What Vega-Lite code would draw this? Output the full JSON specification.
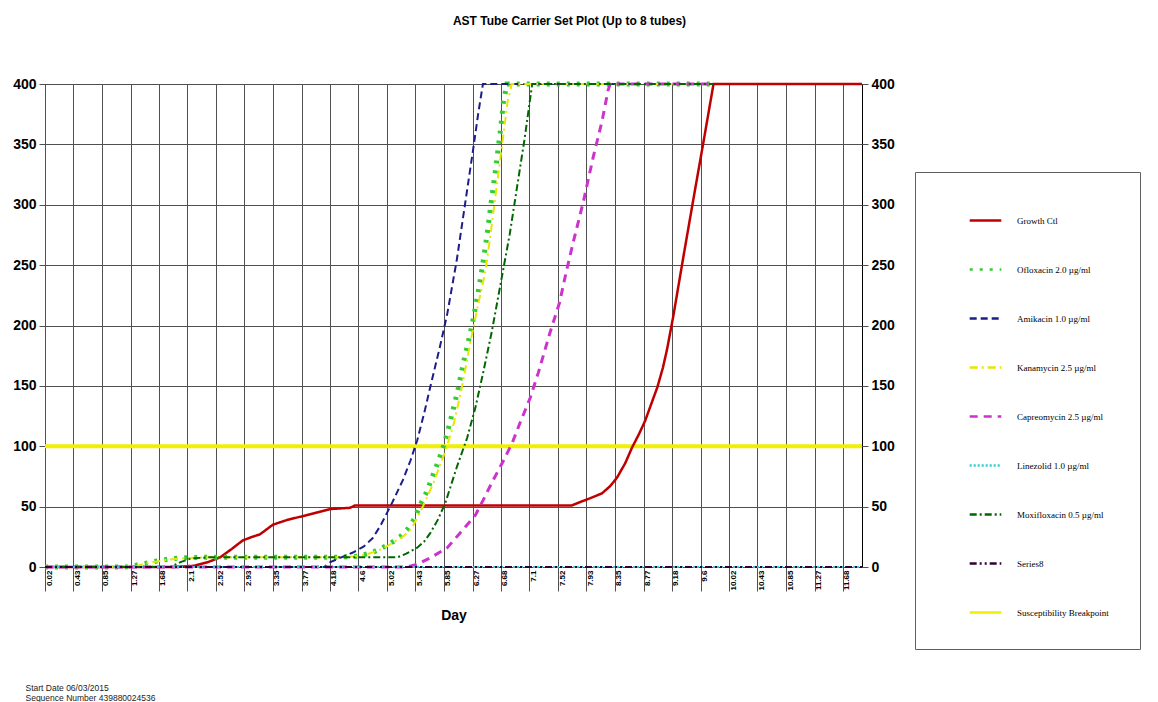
{
"$schema": "https://vega.github.io/schema/vega-lite/v6.json",
"autosize": {"type": "none"},
"width": 817, "height": 483,
"padding": {"left": 45, "top": 84, "right": 296, "bottom": 135},
"background": "white",
"title": {"text": "AST Tube Carrier Set Plot (Up to 8 tubes)", "font": "Liberation Sans", "fontSize": 12, "fontWeight": "bold", "color": "#000", "anchor": "middle", "dx": 116, "offset": 46},
"data": {"values": [
{"s":"Susceptibility Breakpoint","d":0.02,"v":100},{"s":"Susceptibility Breakpoint","d":11.96,"v":100},
{"s":"Growth Ctl","d":0.02,"v":0},{"s":"Growth Ctl","d":1.9,"v":0},{"s":"Growth Ctl","d":2.2,"v":1},{"s":"Growth Ctl","d":2.4,"v":4},{"s":"Growth Ctl","d":2.58,"v":8},{"s":"Growth Ctl","d":2.75,"v":15},{"s":"Growth Ctl","d":2.91,"v":22},{"s":"Growth Ctl","d":3.05,"v":25},{"s":"Growth Ctl","d":3.16,"v":27},{"s":"Growth Ctl","d":3.35,"v":35},{"s":"Growth Ctl","d":3.56,"v":39},{"s":"Growth Ctl","d":3.85,"v":43},{"s":"Growth Ctl","d":4.05,"v":46},{"s":"Growth Ctl","d":4.19,"v":48},{"s":"Growth Ctl","d":4.48,"v":49},{"s":"Growth Ctl","d":4.55,"v":51},{"s":"Growth Ctl","d":7.72,"v":51},{"s":"Growth Ctl","d":7.85,"v":54},{"s":"Growth Ctl","d":7.99,"v":57},{"s":"Growth Ctl","d":8.16,"v":61},{"s":"Growth Ctl","d":8.28,"v":67},{"s":"Growth Ctl","d":8.38,"v":74},{"s":"Growth Ctl","d":8.5,"v":86},{"s":"Growth Ctl","d":8.6,"v":99},{"s":"Growth Ctl","d":8.7,"v":110},{"s":"Growth Ctl","d":8.79,"v":121},{"s":"Growth Ctl","d":8.88,"v":135},{"s":"Growth Ctl","d":8.97,"v":149},{"s":"Growth Ctl","d":9.05,"v":165},{"s":"Growth Ctl","d":9.11,"v":180},{"s":"Growth Ctl","d":9.2,"v":207},{"s":"Growth Ctl","d":9.35,"v":257},{"s":"Growth Ctl","d":9.5,"v":306},{"s":"Growth Ctl","d":9.64,"v":351},{"s":"Growth Ctl","d":9.79,"v":400},{"s":"Growth Ctl","d":11.96,"v":400},
{"s":"Ofloxacin 2.0 µg/ml","d":0.02,"v":0},{"s":"Ofloxacin 2.0 µg/ml","d":1.2,"v":0},{"s":"Ofloxacin 2.0 µg/ml","d":1.35,"v":1.5},{"s":"Ofloxacin 2.0 µg/ml","d":1.48,"v":3},{"s":"Ofloxacin 2.0 µg/ml","d":1.66,"v":5},{"s":"Ofloxacin 2.0 µg/ml","d":1.82,"v":6.6},{"s":"Ofloxacin 2.0 µg/ml","d":1.99,"v":7.5},{"s":"Ofloxacin 2.0 µg/ml","d":2.3,"v":8},{"s":"Ofloxacin 2.0 µg/ml","d":4.33,"v":8},{"s":"Ofloxacin 2.0 µg/ml","d":4.6,"v":9},{"s":"Ofloxacin 2.0 µg/ml","d":4.8,"v":12},{"s":"Ofloxacin 2.0 µg/ml","d":4.92,"v":15},{"s":"Ofloxacin 2.0 µg/ml","d":5.08,"v":20},{"s":"Ofloxacin 2.0 µg/ml","d":5.21,"v":25},{"s":"Ofloxacin 2.0 µg/ml","d":5.33,"v":32},{"s":"Ofloxacin 2.0 µg/ml","d":5.42,"v":40},{"s":"Ofloxacin 2.0 µg/ml","d":5.5,"v":51},{"s":"Ofloxacin 2.0 µg/ml","d":5.58,"v":60},{"s":"Ofloxacin 2.0 µg/ml","d":5.65,"v":70},{"s":"Ofloxacin 2.0 µg/ml","d":5.75,"v":85},{"s":"Ofloxacin 2.0 µg/ml","d":5.84,"v":99},{"s":"Ofloxacin 2.0 µg/ml","d":5.94,"v":120},{"s":"Ofloxacin 2.0 µg/ml","d":6.06,"v":148},{"s":"Ofloxacin 2.0 µg/ml","d":6.13,"v":168},{"s":"Ofloxacin 2.0 µg/ml","d":6.2,"v":185},{"s":"Ofloxacin 2.0 µg/ml","d":6.26,"v":200},{"s":"Ofloxacin 2.0 µg/ml","d":6.34,"v":224},{"s":"Ofloxacin 2.0 µg/ml","d":6.41,"v":248},{"s":"Ofloxacin 2.0 µg/ml","d":6.48,"v":275},{"s":"Ofloxacin 2.0 µg/ml","d":6.55,"v":306},{"s":"Ofloxacin 2.0 µg/ml","d":6.6,"v":327},{"s":"Ofloxacin 2.0 µg/ml","d":6.67,"v":359},{"s":"Ofloxacin 2.0 µg/ml","d":6.72,"v":385},{"s":"Ofloxacin 2.0 µg/ml","d":6.77,"v":400},{"s":"Ofloxacin 2.0 µg/ml","d":9.79,"v":400},
{"s":"Amikacin 1.0 µg/ml","d":0.02,"v":0},{"s":"Amikacin 1.0 µg/ml","d":4.1,"v":0},{"s":"Amikacin 1.0 µg/ml","d":4.19,"v":4},{"s":"Amikacin 1.0 µg/ml","d":4.35,"v":8},{"s":"Amikacin 1.0 µg/ml","d":4.52,"v":12},{"s":"Amikacin 1.0 µg/ml","d":4.68,"v":17},{"s":"Amikacin 1.0 µg/ml","d":4.81,"v":24},{"s":"Amikacin 1.0 µg/ml","d":4.92,"v":34},{"s":"Amikacin 1.0 µg/ml","d":5.02,"v":45},{"s":"Amikacin 1.0 µg/ml","d":5.1,"v":54},{"s":"Amikacin 1.0 µg/ml","d":5.25,"v":72},{"s":"Amikacin 1.0 µg/ml","d":5.36,"v":88},{"s":"Amikacin 1.0 µg/ml","d":5.46,"v":105},{"s":"Amikacin 1.0 µg/ml","d":5.56,"v":127},{"s":"Amikacin 1.0 µg/ml","d":5.65,"v":149},{"s":"Amikacin 1.0 µg/ml","d":5.79,"v":182},{"s":"Amikacin 1.0 µg/ml","d":5.9,"v":210},{"s":"Amikacin 1.0 µg/ml","d":6.04,"v":255},{"s":"Amikacin 1.0 µg/ml","d":6.16,"v":301},{"s":"Amikacin 1.0 µg/ml","d":6.28,"v":347},{"s":"Amikacin 1.0 µg/ml","d":6.35,"v":375},{"s":"Amikacin 1.0 µg/ml","d":6.42,"v":400},{"s":"Amikacin 1.0 µg/ml","d":9.79,"v":400},
{"s":"Kanamycin 2.5 µg/ml","d":0.02,"v":0},{"s":"Kanamycin 2.5 µg/ml","d":1.3,"v":0},{"s":"Kanamycin 2.5 µg/ml","d":1.5,"v":3},{"s":"Kanamycin 2.5 µg/ml","d":1.8,"v":6},{"s":"Kanamycin 2.5 µg/ml","d":2.1,"v":7.5},{"s":"Kanamycin 2.5 µg/ml","d":2.4,"v":8},{"s":"Kanamycin 2.5 µg/ml","d":4.4,"v":8},{"s":"Kanamycin 2.5 µg/ml","d":4.7,"v":10},{"s":"Kanamycin 2.5 µg/ml","d":4.95,"v":15},{"s":"Kanamycin 2.5 µg/ml","d":5.25,"v":25},{"s":"Kanamycin 2.5 µg/ml","d":5.38,"v":32},{"s":"Kanamycin 2.5 µg/ml","d":5.55,"v":51},{"s":"Kanamycin 2.5 µg/ml","d":5.7,"v":70},{"s":"Kanamycin 2.5 µg/ml","d":5.89,"v":99},{"s":"Kanamycin 2.5 µg/ml","d":6.0,"v":120},{"s":"Kanamycin 2.5 µg/ml","d":6.11,"v":148},{"s":"Kanamycin 2.5 µg/ml","d":6.25,"v":190},{"s":"Kanamycin 2.5 µg/ml","d":6.36,"v":220},{"s":"Kanamycin 2.5 µg/ml","d":6.46,"v":246},{"s":"Kanamycin 2.5 µg/ml","d":6.53,"v":275},{"s":"Kanamycin 2.5 µg/ml","d":6.6,"v":306},{"s":"Kanamycin 2.5 µg/ml","d":6.72,"v":358},{"s":"Kanamycin 2.5 µg/ml","d":6.78,"v":385},{"s":"Kanamycin 2.5 µg/ml","d":6.84,"v":400},{"s":"Kanamycin 2.5 µg/ml","d":9.79,"v":400},
{"s":"Capreomycin 2.5 µg/ml","d":0.02,"v":0},{"s":"Capreomycin 2.5 µg/ml","d":5.3,"v":0},{"s":"Capreomycin 2.5 µg/ml","d":5.45,"v":2},{"s":"Capreomycin 2.5 µg/ml","d":5.65,"v":7.5},{"s":"Capreomycin 2.5 µg/ml","d":5.9,"v":16},{"s":"Capreomycin 2.5 µg/ml","d":6.13,"v":31},{"s":"Capreomycin 2.5 µg/ml","d":6.31,"v":43},{"s":"Capreomycin 2.5 µg/ml","d":6.42,"v":55},{"s":"Capreomycin 2.5 µg/ml","d":6.57,"v":72},{"s":"Capreomycin 2.5 µg/ml","d":6.72,"v":88},{"s":"Capreomycin 2.5 µg/ml","d":6.85,"v":103},{"s":"Capreomycin 2.5 µg/ml","d":6.96,"v":119},{"s":"Capreomycin 2.5 µg/ml","d":7.11,"v":140},{"s":"Capreomycin 2.5 µg/ml","d":7.23,"v":161},{"s":"Capreomycin 2.5 µg/ml","d":7.4,"v":194},{"s":"Capreomycin 2.5 µg/ml","d":7.54,"v":219},{"s":"Capreomycin 2.5 µg/ml","d":7.64,"v":245},{"s":"Capreomycin 2.5 µg/ml","d":7.74,"v":269},{"s":"Capreomycin 2.5 µg/ml","d":7.89,"v":303},{"s":"Capreomycin 2.5 µg/ml","d":8.03,"v":339},{"s":"Capreomycin 2.5 µg/ml","d":8.16,"v":369},{"s":"Capreomycin 2.5 µg/ml","d":8.25,"v":395},{"s":"Capreomycin 2.5 µg/ml","d":8.28,"v":400},{"s":"Capreomycin 2.5 µg/ml","d":9.79,"v":400},
{"s":"Linezolid 1.0 µg/ml","d":0.02,"v":0},{"s":"Linezolid 1.0 µg/ml","d":11.96,"v":0},
{"s":"Moxifloxacin 0.5 µg/ml","d":0.02,"v":0},{"s":"Moxifloxacin 0.5 µg/ml","d":1.85,"v":0},{"s":"Moxifloxacin 0.5 µg/ml","d":2.0,"v":4},{"s":"Moxifloxacin 0.5 µg/ml","d":2.15,"v":7},{"s":"Moxifloxacin 0.5 µg/ml","d":2.4,"v":8},{"s":"Moxifloxacin 0.5 µg/ml","d":5.17,"v":8},{"s":"Moxifloxacin 0.5 µg/ml","d":5.3,"v":11},{"s":"Moxifloxacin 0.5 µg/ml","d":5.46,"v":16},{"s":"Moxifloxacin 0.5 µg/ml","d":5.56,"v":21},{"s":"Moxifloxacin 0.5 µg/ml","d":5.65,"v":28},{"s":"Moxifloxacin 0.5 µg/ml","d":5.76,"v":39},{"s":"Moxifloxacin 0.5 µg/ml","d":5.87,"v":53},{"s":"Moxifloxacin 0.5 µg/ml","d":6.04,"v":83},{"s":"Moxifloxacin 0.5 µg/ml","d":6.19,"v":107},{"s":"Moxifloxacin 0.5 µg/ml","d":6.31,"v":132},{"s":"Moxifloxacin 0.5 µg/ml","d":6.42,"v":160},{"s":"Moxifloxacin 0.5 µg/ml","d":6.55,"v":195},{"s":"Moxifloxacin 0.5 µg/ml","d":6.68,"v":235},{"s":"Moxifloxacin 0.5 µg/ml","d":6.81,"v":275},{"s":"Moxifloxacin 0.5 µg/ml","d":6.92,"v":315},{"s":"Moxifloxacin 0.5 µg/ml","d":7.03,"v":355},{"s":"Moxifloxacin 0.5 µg/ml","d":7.14,"v":400},{"s":"Moxifloxacin 0.5 µg/ml","d":9.79,"v":400},
{"s":"Series8","d":0.02,"v":0},{"s":"Series8","d":11.96,"v":0}
]},
"encoding": {
  "color": {"field": "s", "type": "nominal",
    "scale": {"domain": ["Growth Ctl","Ofloxacin 2.0 µg/ml","Amikacin 1.0 µg/ml","Kanamycin 2.5 µg/ml","Capreomycin 2.5 µg/ml","Linezolid 1.0 µg/ml","Moxifloxacin 0.5 µg/ml","Series8","Susceptibility Breakpoint"],
              "range": ["#c00000","#33cc33","#1c1c8c","#e6e600","#cc33cc","#33cccc","#006600","#330033","#f0f000"]},
    "legend": {"title": null, "orient": "none", "legendX": 870, "legendY": 88, "symbolType": "stroke", "symbolSize": 1000, "symbolStrokeWidth": 2.5, "symbolOffset": 22, "labelOffset": 14, "labelFont": "Liberation Serif", "labelFontSize": 9, "labelColor": "#000", "rowPadding": 26, "padding": 31, "strokeColor": "#606060", "fillColor": "#ffffff", "labelLimit": 200}},
  "strokeDash": {"field": "s", "type": "nominal",
    "scale": {"domain": ["Growth Ctl","Ofloxacin 2.0 µg/ml","Amikacin 1.0 µg/ml","Kanamycin 2.5 µg/ml","Capreomycin 2.5 µg/ml","Linezolid 1.0 µg/ml","Moxifloxacin 0.5 µg/ml","Series8","Susceptibility Breakpoint"],
              "range": [[1,0],[3,7],[7,4],[8,4,2,4],[8,6],[2,2],[7,3,2,3],[7,3,2,3,2,3],[1,0]]},
    "legend": {"title": null, "orient": "none", "legendX": 870, "legendY": 88, "symbolType": "stroke", "symbolSize": 1000, "symbolStrokeWidth": 2.5, "symbolOffset": 22, "labelOffset": 14, "labelFont": "Liberation Serif", "labelFontSize": 9, "labelColor": "#000", "rowPadding": 26, "padding": 31, "strokeColor": "#606060", "fillColor": "#ffffff", "labelLimit": 200}}
},
"layer": [
  {"transform": [{"filter": {"field": "s", "equal": "Susceptibility Breakpoint"}}],
   "mark": {"type": "line", "strokeWidth": 4},
   "encoding": {
     "x": {"field": "d", "type": "quantitative", "scale": {"domain": [0.02, 11.96], "nice": false, "zero": false},
       "axis": {"values": [0.02,0.43,0.85,1.27,1.68,2.1,2.52,2.93,3.35,3.77,4.18,4.6,5.02,5.43,5.85,6.27,6.68,7.1,7.52,7.93,8.35,8.77,9.18,9.6,10.02,10.43,10.85,11.27,11.68],
         "format": ".2~f", "labelAngle": -90, "labelAlign": "right", "labelBaseline": "top", "labelFont": "Liberation Sans", "labelFontSize": 8, "labelFontWeight": "bold", "labelColor": "#000", "labelPadding": -21, "tickSize": 24, "tickColor": "#505050", "grid": true, "gridColor": "#505050", "gridOpacity": 1, "domain": false, "labelOverlap": false, "labelFlush": false,
         "title": "Day", "titleFont": "Liberation Sans", "titleFontSize": 14, "titleFontWeight": "bold", "titleColor": "#000", "titlePadding": 17}},
     "y": {"field": "v", "type": "quantitative", "scale": {"domain": [0, 400], "nice": false},
       "axis": {"orient": "left", "values": [0,50,100,150,200,250,300,350,400], "grid": true, "gridColor": "#505050", "gridOpacity": 1, "tickSize": 6, "tickColor": "#505050", "domain": false, "labelFont": "Liberation Sans", "labelFontSize": 14, "labelFontWeight": "bold", "labelColor": "#000", "labelPadding": 3, "title": null}}
   }},
  {"transform": [{"filter": {"field": "s", "equal": "Growth Ctl"}}],
   "mark": {"type": "line", "strokeWidth": 2.5},
   "encoding": {
     "x": {"field": "d", "type": "quantitative", "scale": {"domain": [0.02, 11.96], "nice": false, "zero": false},
       "axis": {"orient": "bottom", "domain": false, "ticks": false, "labels": false, "grid": false,
         "title": ["Start Date  06/03/2015", "Sequence Number  439880024536"], "titleX": -20, "titleY": 116, "titleAlign": "left", "titleAnchor": "start", "titleBaseline": "top", "titleFont": "Liberation Sans", "titleFontSize": 8.5, "titleFontWeight": "normal", "titleColor": "#222", "titleLineHeight": 10}},
     "y": {"field": "v", "type": "quantitative", "scale": {"domain": [0, 400], "nice": false},
       "axis": {"orient": "right", "values": [0,50,100,150,200,250,300,350,400], "grid": false, "tickSize": 6, "tickColor": "#505050", "domain": false, "labelFont": "Liberation Sans", "labelFontSize": 14, "labelFontWeight": "bold", "labelColor": "#000", "labelPadding": 3, "title": null}}
   }},
  {"transform": [{"filter": {"field": "s", "equal": "Ofloxacin 2.0 µg/ml"}}],
   "mark": {"type": "line", "strokeWidth": 5},
   "encoding": {
     "x": {"field": "d", "type": "quantitative", "scale": {"domain": [0.02, 11.96], "nice": false, "zero": false}, "axis": null},
     "y": {"field": "v", "type": "quantitative", "scale": {"domain": [0, 400], "nice": false}, "axis": null}
   }},
  {"transform": [{"filter": {"field": "s", "oneOf": ["Amikacin 1.0 µg/ml", "Kanamycin 2.5 µg/ml"]}}],
   "mark": {"type": "line", "strokeWidth": 2},
   "encoding": {
     "x": {"field": "d", "type": "quantitative", "scale": {"domain": [0.02, 11.96], "nice": false, "zero": false}, "axis": null},
     "y": {"field": "v", "type": "quantitative", "scale": {"domain": [0, 400], "nice": false}, "axis": null}
   }},
  {"transform": [{"filter": {"field": "s", "equal": "Capreomycin 2.5 µg/ml"}}],
   "mark": {"type": "line", "strokeWidth": 3},
   "encoding": {
     "x": {"field": "d", "type": "quantitative", "scale": {"domain": [0.02, 11.96], "nice": false, "zero": false}, "axis": null},
     "y": {"field": "v", "type": "quantitative", "scale": {"domain": [0, 400], "nice": false}, "axis": null}
   }},
  {"transform": [{"filter": {"field": "s", "oneOf": ["Linezolid 1.0 µg/ml", "Moxifloxacin 0.5 µg/ml", "Series8"]}}],
   "mark": {"type": "line", "strokeWidth": 2},
   "encoding": {
     "x": {"field": "d", "type": "quantitative", "scale": {"domain": [0.02, 11.96], "nice": false, "zero": false}, "axis": null},
     "y": {"field": "v", "type": "quantitative", "scale": {"domain": [0, 400], "nice": false}, "axis": null}
   }}
],
"resolve": {"axis": {"x": "independent", "y": "independent"}},
"config": {"view": {"stroke": "#000", "strokeWidth": 1}}
}
